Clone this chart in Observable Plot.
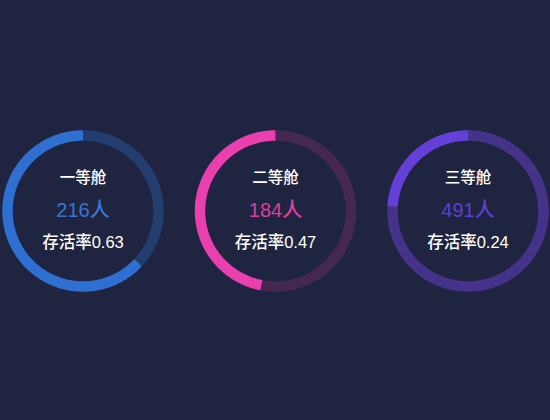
<!DOCTYPE html>
<html>
<head>
<meta charset="utf-8">
<script src="https://cdn.jsdelivr.net/npm/d3@7"></script>
<script src="https://cdn.jsdelivr.net/npm/@observablehq/plot@0.6"></script>
<style>
  html, body { margin: 0; padding: 0; background: #1f2540; }
  #chart { width: 550px; height: 420px; }
</style>
</head>
<body>
<div id="chart"></div>
<script>
// ---- data ----
const classes = ["一等舱", "二等舱", "三等舱"];
const counts = [216, 184, 491];
const survival = [0.63, 0.47, 0.24];

// ---- styles / layout ----
const fillColors = ["#2f6fd2", "#ea3fae", "#6440d8"];
const trackColors = ["#233d6e", "#45284f", "#45338a"];
const numColors = ["#3a74d4", "#d9409f", "#5b3fd2"];
const W = 550, H = 420;
const centersX = [0.15, 0.5, 0.85].map(f => f * W);
const cy = 210.5;
const R = 75.5;
const ringW = 10.5;

// build ring point sequences from survival rates (start at top, counter-clockwise)
function arcPoints(i, a0, a1, part) {
  const n = Math.max(2, Math.ceil(Math.abs(a1 - a0) / (Math.PI / 180)));
  const pts = [];
  for (let k = 0; k <= n; k++) {
    const a = a0 + (a1 - a0) * k / n;
    pts.push({ ring: i, part, x: centersX[i] - R * Math.sin(a), y: cy - R * Math.cos(a) });
  }
  return pts;
}
const segs = [];
classes.forEach((c, i) => {
  const end = survival[i] * 2 * Math.PI;
  segs.push({ key: `t${i}`, color: trackColors[i], pts: arcPoints(i, end, 2 * Math.PI, "track") });
  segs.push({ key: `f${i}`, color: fillColors[i], pts: arcPoints(i, 0, end, "fill") });
});

const labels = classes.map((c, i) => ({ i, x: centersX[i], name: c, count: counts[i] + "人", rate: "存活率" + survival[i].toFixed(2) }));

const font = "'Liberation Sans', 'Noto Sans CJK SC', sans-serif";

const marks = [];
segs.forEach(s => {
  marks.push(Plot.line(s.pts, { x: "x", y: "y", stroke: s.color, strokeWidth: ringW, strokeLinecap: "butt", curve: "linear" }));
});
marks.push(Plot.text(labels, { x: "x", y: () => 178, text: "name", fill: "#ffffff", fontSize: 15.5, fontWeight: 500, fontFamily: font }));
marks.push(Plot.text(labels, { x: "x", y: () => 210, text: "count", fill: d => numColors[d.i], fontSize: 20, fontWeight: 500, fontFamily: font }));
marks.push(Plot.text(labels, { x: "x", y: () => 242, text: "rate", fill: "#ffffff", fontSize: 16.5, fontWeight: 500, fontFamily: font }));

const chart = Plot.plot({
  width: W,
  height: H,
  margin: 0,
  x: { type: "linear", domain: [0, W], range: [0, W], axis: null },
  y: { type: "linear", domain: [0, H], range: [0, H], axis: null },
  style: { background: "#1f2540", fontFamily: font, overflow: "visible" },
  marks
});
document.getElementById("chart").appendChild(chart);
</script>
</body>
</html>
